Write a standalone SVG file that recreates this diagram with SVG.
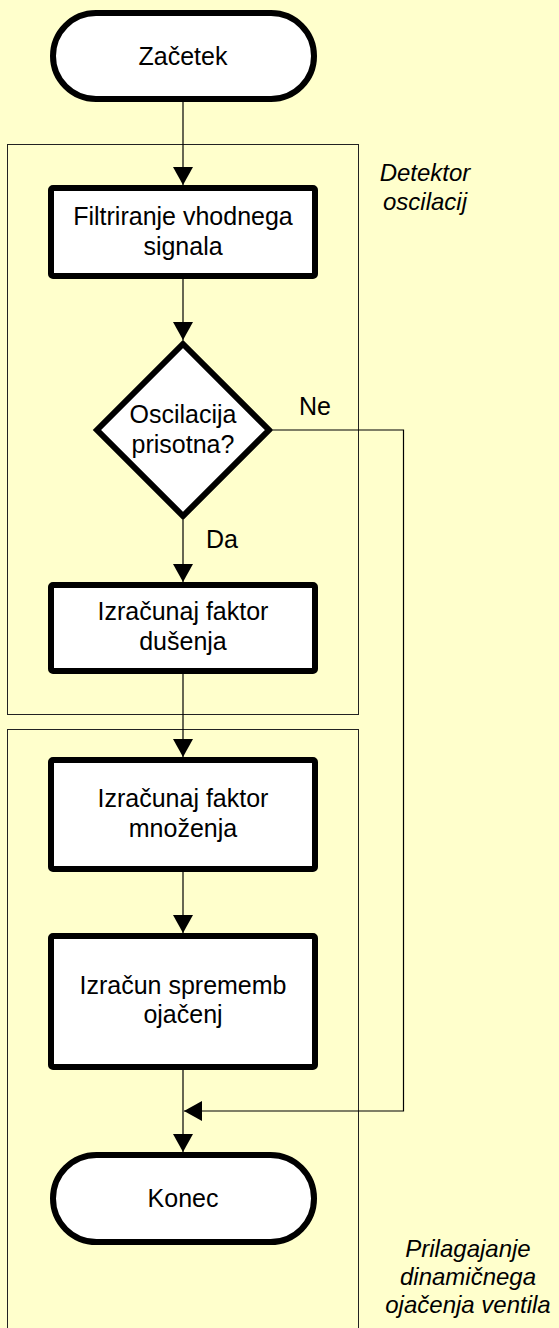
<svg xmlns="http://www.w3.org/2000/svg" width="559" height="1328" viewBox="0 0 559 1328">
<style>
.node{fill:#ffffff;stroke:#000000;stroke-width:6;stroke-linejoin:miter}
.grp{fill:none;stroke:#222222;stroke-width:1}
.t{font-family:"Liberation Sans",Arial,sans-serif;font-size:25px;fill:#000000;text-anchor:middle}
.lbl{font-family:"Liberation Sans",Arial,sans-serif;font-size:24px;font-style:italic;fill:#000000;text-anchor:middle}
.c{fill:none;stroke:#000000;stroke-width:1.2}
</style>
<defs>
<marker id="arr" markerUnits="userSpaceOnUse" markerWidth="20" markerHeight="20" viewBox="0 0 18 20" refX="18" refY="10" orient="auto">
<path d="M0,0 L18,10 L0,20 z" fill="#000000"/>
</marker>
</defs>
<rect x="0" y="0" width="559" height="1328" fill="#ffffcc"/>
<g id="group-detektor">
<rect class="grp" x="7.5" y="144.5" width="351" height="570"/>
<text class="lbl" x="425" y="181">Detektor</text>
<text class="lbl" x="425" y="210">oscilacij</text>
</g>
<g id="group-prilagajanje">
<rect class="grp" x="7.5" y="729.5" width="351" height="620"/>
<text class="lbl" x="468" y="1257">Prilagajanje</text>
<text class="lbl" x="468" y="1285">dinamičnega</text>
<text class="lbl" x="468" y="1313">ojačenja ventila</text>
</g>
<g id="connectors">
<line class="c" x1="183" y1="102" x2="183" y2="185" marker-end="url(#arr)"/>
<line class="c" x1="183" y1="279" x2="183" y2="340" marker-end="url(#arr)"/>
<line class="c" x1="183" y1="520" x2="183" y2="582" marker-end="url(#arr)"/>
<line class="c" x1="183" y1="674" x2="183" y2="757" marker-end="url(#arr)"/>
<line class="c" x1="183" y1="872" x2="183" y2="933" marker-end="url(#arr)"/>
<line class="c" x1="183" y1="1070" x2="183" y2="1152" marker-end="url(#arr)"/>
<polyline class="c" points="273,430 403.5,430 403.5,1111 184,1111" marker-end="url(#arr)"/>
<text class="t" x="315" y="415">Ne</text>
<text class="t" x="222" y="548">Da</text>
</g>
<g id="start">
<rect class="node" x="53" y="13" width="261" height="86" rx="43" ry="43"/>
<text class="t" x="183" y="65">Začetek</text>
</g>
<g id="filter">
<rect class="node" x="51" y="188" width="264" height="88" rx="2"/>
<text class="t" x="183" y="225">Filtriranje vhodnega</text>
<text class="t" x="183" y="255">signala</text>
</g>
<g id="decision">
<polygon class="node" points="183,344 269,430 183,516 97,430"/>
<text class="t" x="183" y="423">Oscilacija</text>
<text class="t" x="183" y="453">prisotna?</text>
</g>
<g id="dusenje">
<rect class="node" x="51" y="585" width="264" height="86" rx="2"/>
<text class="t" x="183" y="620">Izračunaj faktor</text>
<text class="t" x="183" y="650">dušenja</text>
</g>
<g id="mnozenje">
<rect class="node" x="51" y="760" width="264" height="109" rx="2"/>
<text class="t" x="183" y="807">Izračunaj faktor</text>
<text class="t" x="183" y="837">množenja</text>
</g>
<g id="spremembe">
<rect class="node" x="51" y="936" width="264" height="131" rx="2"/>
<text class="t" x="183" y="994">Izračun sprememb</text>
<text class="t" x="183" y="1023">ojačenj</text>
</g>
<g id="end">
<rect class="node" x="53" y="1155" width="261" height="87" rx="43.5" ry="43.5"/>
<text class="t" x="183" y="1207">Konec</text>
</g>
</svg>
